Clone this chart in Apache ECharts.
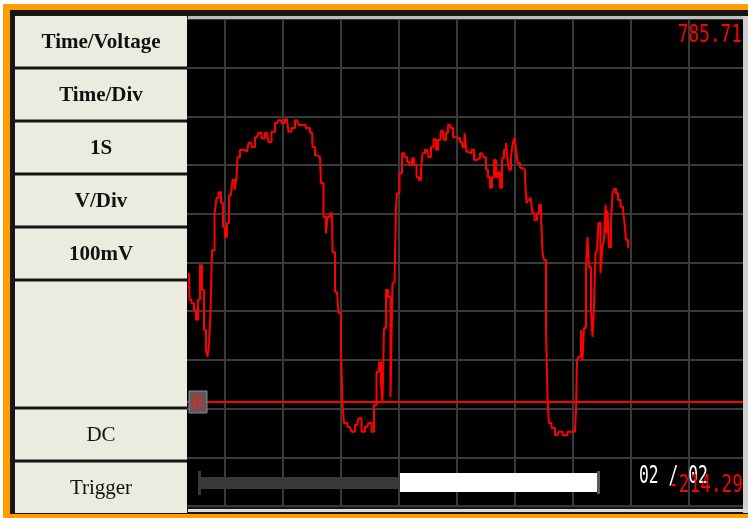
<!DOCTYPE html>
<html><head><meta charset="utf-8">
<script src="https://cdn.jsdelivr.net/npm/echarts/dist/echarts.min.js"></script>
<style>
html,body{margin:0;padding:0;background:#fff;width:748px;height:518px;overflow:hidden}
#frame{position:absolute;left:3px;top:4px;width:745px;height:514px;background:#ff9c00}
#inner{position:absolute;left:10px;top:10px;width:738px;height:504px;background:#161616}
#chart{position:absolute;left:0;top:0;width:748px;height:518px}
</style></head><body>
<div id="frame"></div><div id="inner"></div><div id="chart"></div>
<script>
// ---- data (time in s, voltage in mV) ----
const times = [
0.379,0.397,0.448,0.483,0.517,0.552,0.586,0.621,0.655,0.690,
0.707,0.741,0.759,0.793,0.845,0.862,0.914,0.948,0.983,1.017,
1.052,1.086,1.121,1.138,1.190,1.207,1.224,1.293,1.379,1.431,
1.483,1.552,1.603,1.655,1.724,1.776,1.828,1.897,1.948,2.000,
2.069,2.121,2.172,2.241,2.293,2.345,2.431,2.500,2.517,2.586,
2.638,2.672,2.724,2.759,2.776,2.845,2.862,2.931,2.983,3.017,
3.034,3.069,3.155,3.207,3.276,3.328,3.379,3.448,3.500,3.552,
3.586,3.638,3.672,3.707,3.724,3.759,3.793,3.828,3.879,3.897,
3.948,3.948,3.983,4.034,4.069,4.121,4.155,4.207,4.241,4.276,
4.328,4.362,4.397,4.414,4.483,4.534,4.569,4.621,4.655,4.690,
4.741,4.759,4.793,4.828,4.862,4.914,4.948,5.017,5.086,5.103,
5.155,5.172,5.224,5.276,5.310,5.362,5.431,5.483,5.517,5.552,
5.586,5.621,5.655,5.690,5.724,5.759,5.793,5.828,5.862,5.879,
5.914,5.948,5.966,6.000,6.034,6.052,6.121,6.155,6.190,6.207,
6.241,6.293,6.310,6.362,6.397,6.431,6.466,6.483,6.517,6.552,
6.569,6.603,6.655,6.724,6.776,6.862,6.948,7.034,7.069,7.069,
7.121,7.155,7.172,7.207,7.241,7.259,7.293,7.328,7.345,7.379,
7.397,7.431,7.448,7.500,7.517,7.552,7.569,7.586,7.603,7.638,
7.672,7.690,7.724,7.759,7.793,7.845,7.879,7.897,7.931,7.966
];
const volts = [
264,209,202,188,168,209,280,229,147,106,
92,116,184,311,383,418,430,408,359,338,
367,424,428,455,435,459,502,517,513,531,
523,543,552,541,552,533,554,572,578,572,
580,554,562,578,568,568,562,552,523,506,
502,449,379,346,379,387,307,225,182,106,
-3,-44,-52,-62,-48,-34,-62,-52,-44,-62,
-7,61,81,38,-3,151,229,215,9,244,
244,400,428,469,510,502,492,486,500,486,
461,455,476,510,517,502,523,539,517,537,
554,558,537,552,568,562,543,541,533,523,
552,513,510,517,496,500,510,502,476,461,
439,461,496,461,471,439,500,517,531,500,
476,502,527,541,521,490,480,476,459,408,
414,420,387,373,387,404,383,305,291,147,
7,-44,-54,-69,-62,-69,-62,-62,-17,85,
92,147,85,151,276,338,276,188,133,194,
305,311,367,264,317,332,404,346,393,317,
367,428,437,428,414,400,393,367,332,317
];
const yMin = -214.29, yMax = 785.71, yStep = 100;
const xMin = 0, xMax = 10, xStep = 1;
const triggerLevel = 0;
const scaleLabels = ['785.71', '-214.29'];
const pageLabel = '02 / 02';
const triggerMarker = 'R';
const tableLabels = ['Time/Voltage', 'Time/Div', '1S', 'V/Div', '100mV', '', 'DC', 'Trigger'];
const tableBold = [true, true, true, true, true, false, false, false];

// ---- layout ----
const seriesData = [];
for (let i = 0; i < Math.min(times.length, volts.length); i++) seriesData.push([times[i], volts[i]]);

const rowEdges = [16, 68, 121, 174, 227, 280, 408, 461, 513];
const tx = 15, tw = 172;
const g = [];
g.push({type: 'rect', z: 100, shape: {x: tx, y: rowEdges[0], width: tw, height: rowEdges[8] - rowEdges[0]}, style: {fill: '#ecebe0'}});
for (let i = 1; i < rowEdges.length - 1; i++) {
  g.push({type: 'rect', z: 101, shape: {x: tx, y: rowEdges[i] - 1.5, width: tw, height: 3}, style: {fill: '#141414'}});
}
tableLabels.forEach((t, i) => {
  if (!t) return;
  g.push({type: 'text', z: 102, x: tx + tw / 2, y: (rowEdges[i] + rowEdges[i + 1]) / 2 + 1,
    style: {text: t, fill: '#111', font: (tableBold[i] ? 'bold ' : '') + '21px "Liberation Serif"', textAlign: 'center', textVerticalAlign: 'middle'}});
});
// plot border
g.push({type: 'rect', z: 100, shape: {x: 188, y: 16, width: 560, height: 3}, style: {fill: '#bdbdbd'}});
g.push({type: 'rect', z: 100, shape: {x: 743, y: 16, width: 5, height: 497}, style: {fill: '#cfcfcf'}});
g.push({type: 'rect', z: 100, shape: {x: 188, y: 509, width: 560, height: 3}, style: {fill: '#d8d8d8'}});
// trigger marker
g.push({type: 'rect', z: 100, shape: {x: 189, y: 391, width: 18, height: 22}, style: {fill: '#5a5a5a', stroke: '#8a8a8a', lineWidth: 1}});
g.push({type: 'text', z: 101, x: 198, y: 403, style: {text: triggerMarker, fill: '#ff1a1a', font: '22px "Liberation Serif"', textAlign: 'center', textVerticalAlign: 'middle'}});
// scrollbar
g.push({type: 'rect', z: 100, shape: {x: 199, y: 477, width: 201, height: 12}, style: {fill: '#3a3a3a'}});
g.push({type: 'rect', z: 100, shape: {x: 198, y: 471, width: 3, height: 24}, style: {fill: '#3a3a3a'}});
g.push({type: 'rect', z: 100, shape: {x: 400, y: 473, width: 198, height: 19}, style: {fill: '#ffffff'}});
g.push({type: 'rect', z: 100, shape: {x: 597, y: 471, width: 3, height: 23}, style: {fill: '#5a5a5a'}});
// texts
g.push({type: 'text', z: 103, x: 639, y: 477, scaleX: 0.68, style: {text: pageLabel, fill: '#ffffff', font: '24px "DejaVu Sans Mono"', textAlign: 'left', textVerticalAlign: 'middle'}});
g.push({type: 'text', z: 104, x: 742, y: 36, scaleX: 0.74, style: {text: scaleLabels[0], fill: '#ff0000', font: '24px "DejaVu Sans Mono"', textAlign: 'right', textVerticalAlign: 'middle'}});
g.push({type: 'text', z: 104, x: 743, y: 486, scaleX: 0.74, style: {text: scaleLabels[1], fill: '#ff0000', font: '24px "DejaVu Sans Mono"', textAlign: 'right', textVerticalAlign: 'middle'}});

const chart = echarts.init(document.getElementById('chart'), null, {renderer: 'canvas'});
chart.setOption({
  animation: false,
  backgroundColor: 'transparent',
  grid: {left: 167, top: 19, width: 580, height: 487, show: true, backgroundColor: '#000', borderWidth: 0},
  xAxis: {type: 'value', min: xMin, max: xMax, interval: xStep,
    axisLine: {show: false}, axisTick: {show: false}, axisLabel: {show: false},
    splitLine: {show: true, lineStyle: {color: '#3a3a3a', width: 2}}},
  yAxis: {type: 'value', min: yMin, max: yMax, interval: yStep,
    axisLine: {show: false}, axisTick: {show: false}, axisLabel: {show: false},
    splitLine: {show: true, lineStyle: {color: '#3a3a3a', width: 2}}},
  series: [{
    type: 'line', data: seriesData, showSymbol: false, silent: true, step: 'middle',
    lineStyle: {color: '#ff0000', width: 2}, z: 5,
    markLine: {silent: true, symbol: 'none', label: {show: false},
      lineStyle: {color: '#ff0000', width: 2, type: 'solid'},
      data: [{yAxis: triggerLevel}]}
  }],
  graphic: g
});
</script>
</body></html>
